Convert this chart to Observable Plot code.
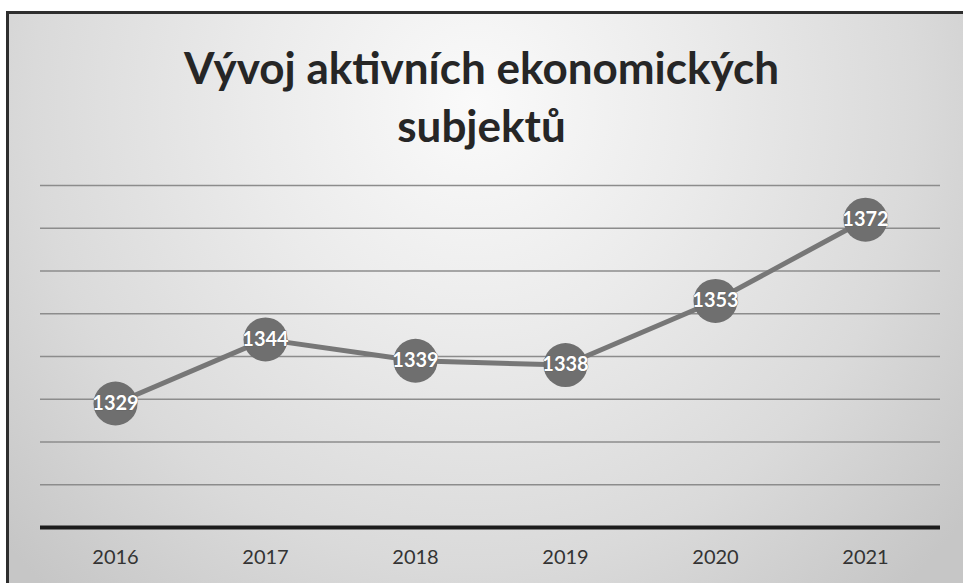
<!DOCTYPE html>
<html><head><meta charset="utf-8">
<script src="https://cdn.jsdelivr.net/npm/d3@7"></script>
<script src="https://cdn.jsdelivr.net/npm/@observablehq/plot@0.6"></script>
<style>
html,body{margin:0;padding:0;width:963px;height:583px;overflow:hidden;background:#fff;}
#frame{position:absolute;left:6px;top:11px;width:970px;height:600px;border:3px solid #2e2e2e;
 background:radial-gradient(ellipse 65% 110% at 48% 15%, #fafafa 0%, #ebebeb 35%, #dadada 70%, #c6c6c6 100%);}
#title{position:absolute;left:0;top:38px;width:963px;text-align:center;font-family:Lato,sans-serif;font-weight:700;
 font-size:44px;line-height:58px;color:#262626;}
#chart{position:absolute;left:0;top:160px;}
</style></head>
<body>
<div id="frame"></div>
<div id="title">Vývoj aktivních ekonomických<br>subjektů</div>
<div id="chart"></div>
<script>
const years = ["2016","2017","2018","2019","2020","2021"];
const values = [1329,1344,1339,1338,1353,1372];
const gridTicks = [1310,1320,1330,1340,1350,1360,1370,1380];
const data = years.map((y,i)=>({year:y, value:values[i]}));

const chart = Plot.plot({
  width: 963, height: 423,
  marginLeft: 40, marginRight: 23, marginTop: 25, marginBottom: 56,
  style: {background: "transparent", fontFamily: "Lato, sans-serif"},
  x: {type: "point", domain: years, padding: 0.5, label: null},
  y: {domain: [1300, 1380], axis: null},
  marks: [
    Plot.ruleY(gridTicks, {stroke: "#8c8c8c", strokeWidth: 1.5}),
    Plot.ruleY([1300], {stroke: "#1c1c1c", strokeWidth: 4}),
    Plot.axisX({tickSize: 0, tickPadding: 22, fontSize: 20, color: "#333", label: null}),
    Plot.line(data, {x: "year", y: "value", stroke: "#777", strokeWidth: 5}),
    Plot.dot(data, {x: "year", y: "value", r: 22, fill: "#6f6f6f"}),
    Plot.text(data, {x: "year", y: "value", text: d => String(d.value), fill: "white", fontSize: 20, fontWeight: "bold",
      stroke: "#555", strokeWidth: 0.6})
  ]
});
document.getElementById("chart").appendChild(chart);
</script>
</body></html>
